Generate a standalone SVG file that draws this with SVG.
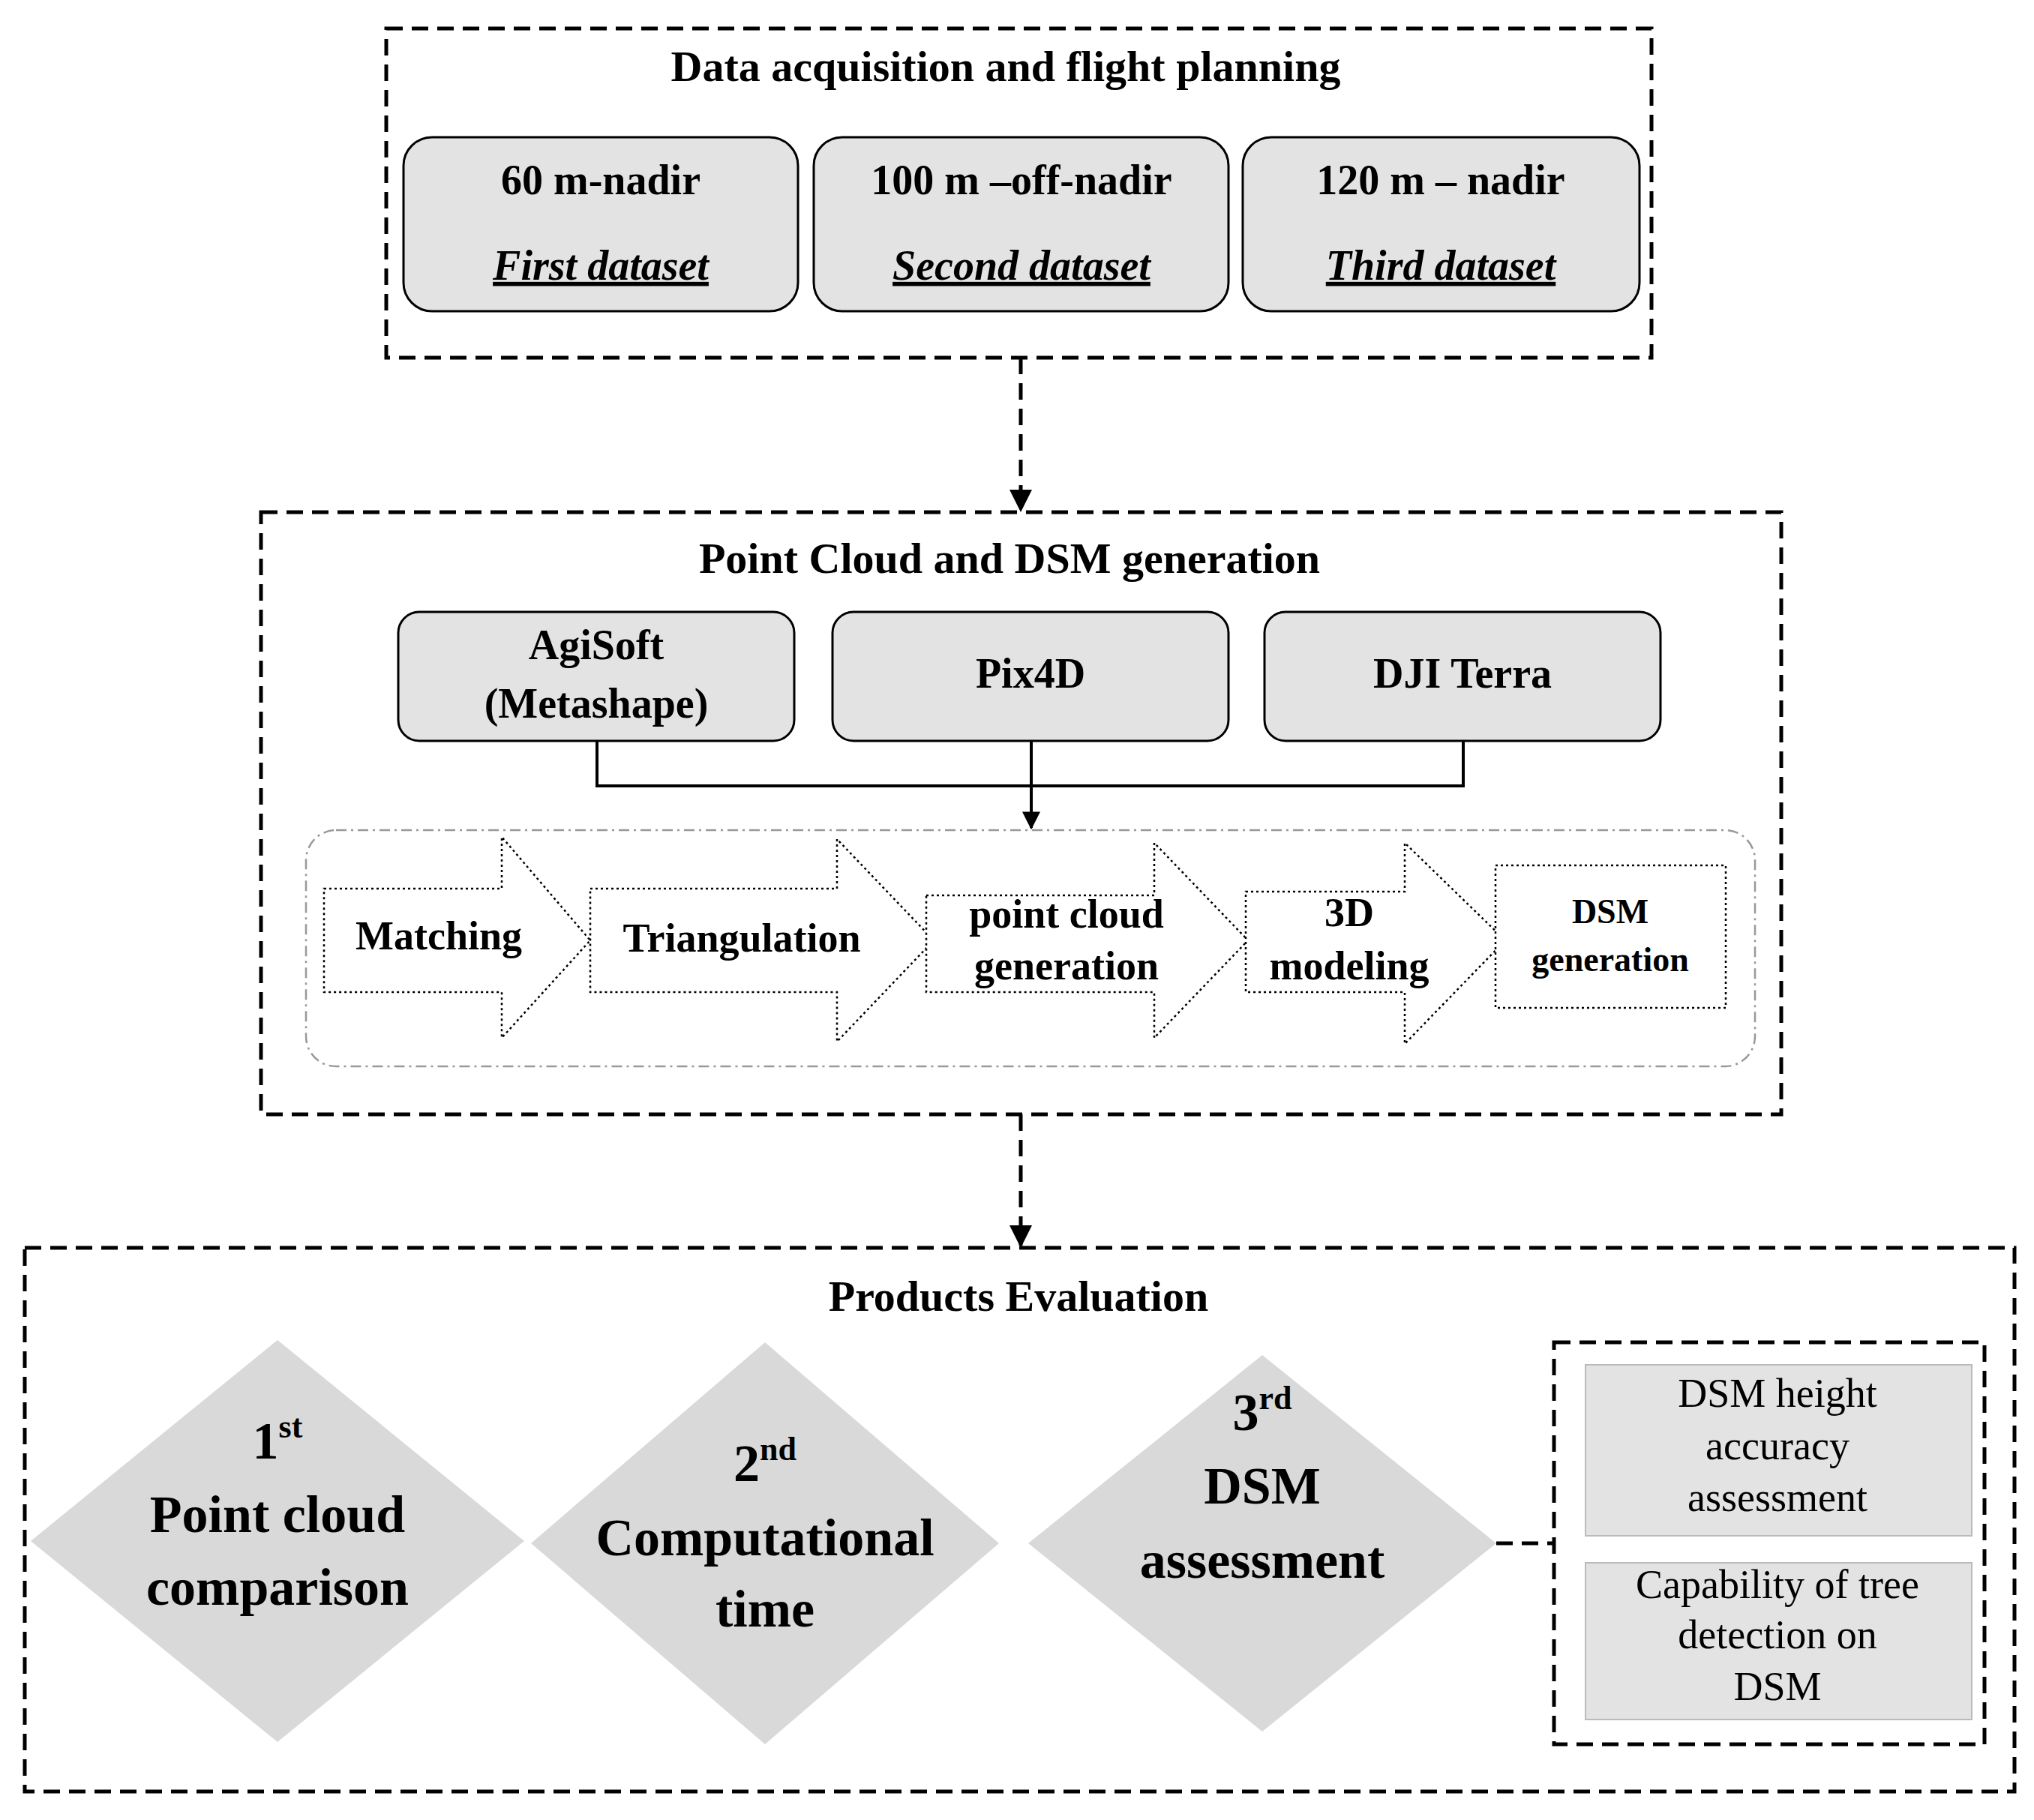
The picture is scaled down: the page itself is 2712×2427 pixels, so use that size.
<svg xmlns="http://www.w3.org/2000/svg" width="2712" height="2427" viewBox="0 0 2712 2427">
<defs>
<marker id="ah" viewBox="0 0 10 10" refX="9" refY="5" markerWidth="6" markerHeight="6" orient="auto"><path d="M0,0 L10,5 L0,10 z" fill="#000"/></marker>
<style>
text{font-family:"Liberation Serif","Times New Roman",serif;fill:#000;text-anchor:middle;dominant-baseline:middle}
.b{font-weight:bold}
.dash{fill:none;stroke:#000;stroke-width:5;stroke-dasharray:22,12}
.rbox{fill:#e3e3e3;stroke:#000;stroke-width:3}
.dot{fill:#fff;stroke:#000;stroke-width:2.5;stroke-dasharray:3,4}
.dia{fill:#d9d9d9}
.gb{fill:#e3e3e3;stroke:#bbb;stroke-width:2}
</style>
</defs>
<rect width="2712" height="2427" fill="#fff"/>
<g id="top">
<rect class="dash" x="515" y="38" width="1687" height="439"/>
<text class="b" x="1341" y="95" font-size="58">Data acquisition  and  flight  planning</text>
</g>
<g id="d1"><rect class="rbox" x="538" y="183" width="526" height="232" rx="38"/>
<text class="b" x="801" y="246" font-size="56">60 m-nadir</text>
<text class="b" x="801" y="360" font-size="56" font-style="italic" text-decoration="underline">First dataset</text></g>
<g id="d2"><rect class="rbox" x="1085" y="183" width="553" height="232" rx="38"/>
<text class="b" x="1362" y="246" font-size="56">100 m –off-nadir</text>
<text class="b" x="1362" y="360" font-size="56" font-style="italic" text-decoration="underline">Second dataset</text></g>
<g id="d3"><rect class="rbox" x="1657" y="183" width="529" height="232" rx="38"/>
<text class="b" x="1921" y="246" font-size="56">120 m – nadir</text>
<text class="b" x="1921" y="360" font-size="56" font-style="italic" text-decoration="underline">Third dataset</text></g>
<g id="mid">
<rect class="dash" x="348" y="683" width="2027" height="803"/>
<text class="b" x="1346" y="751" font-size="58">Point  Cloud  and  DSM  generation</text>
<rect x="408" y="1107" width="1932" height="315" rx="40" fill="none" stroke="#999" stroke-width="2.5" stroke-dasharray="14,6,3,6"/>
</g>
<g id="s1"><rect class="rbox" x="531" y="816" width="528" height="172" rx="28"/>
<text class="b" x="795" y="866" font-size="56">AgiSoft</text><text class="b" x="795" y="944" font-size="56">(Metashape)</text></g>
<g id="s2"><rect class="rbox" x="1110" y="816" width="528" height="172" rx="28"/>
<text class="b" x="1374" y="904" font-size="56">Pix4D</text></g>
<g id="s3"><rect class="rbox" x="1686" y="816" width="528" height="172" rx="28"/>
<text class="b" x="1950" y="904" font-size="56">DJI Terra</text></g>
<g id="a1"><path class="dot" d="M432,1185 H669 V1116 L787,1254 L669,1384 V1323 H432 Z"/>
<text class="b" x="585" y="1254" font-size="54">Matching</text></g>
<g id="a2"><path class="dot" d="M787,1185 H1116 V1119 L1245,1254 L1116,1389 V1323 H787 Z"/>
<text class="b" x="989" y="1257" font-size="54">Triangulation</text></g>
<g id="a3"><path class="dot" d="M1235,1194 H1539 V1124 L1664,1254 L1539,1384 V1323 H1235 Z"/>
<text class="b" x="1422" y="1225" font-size="54">point cloud</text><text class="b" x="1422" y="1294" font-size="54">generation</text></g>
<g id="a4"><path class="dot" d="M1661,1189 H1873 V1124 L2007,1254 L1873,1392 V1323 H1661 Z"/>
<text class="b" x="1799" y="1223" font-size="54">3D</text><text class="b" x="1799" y="1294" font-size="54">modeling</text></g>
<g id="a5"><rect class="dot" x="1994" y="1154" width="307" height="190"/>
<text class="b" x="2147" y="1220" font-size="46">DSM</text><text class="b" x="2147" y="1284" font-size="46">generation</text></g>
<g id="bot">
<rect class="dash" x="33" y="1664" width="2653" height="725"/>
<text class="b" x="1358" y="1735" font-size="58">Products  Evaluation</text>
<rect class="dash" x="2072" y="1790" width="574" height="536"/>
</g>
<g id="e1"><path class="dia" d="M370,1787 L699,2055 L370,2323 L41,2055 Z"/>
<text class="b" x="370" y="1929" font-size="70">1<tspan font-size="44" dy="-22">st</tspan></text>
<text class="b" x="370" y="2027" font-size="70">Point cloud</text><text class="b" x="370" y="2124" font-size="70">comparison</text></g>
<g id="e2"><path class="dia" d="M1020,1790 L1332,2058 L1020,2326 L708,2058 Z"/>
<text class="b" x="1020" y="1959" font-size="70">2<tspan font-size="44" dy="-22">nd</tspan></text>
<text class="b" x="1020" y="2058" font-size="70">Computational</text><text class="b" x="1020" y="2153" font-size="70">time</text></g>
<g id="e3"><path class="dia" d="M1683,1807 L1995,2058 L1683,2309 L1371,2058 Z"/>
<text class="b" x="1683" y="1891" font-size="70">3<tspan font-size="44" dy="-22">rd</tspan></text>
<text class="b" x="1683" y="1989" font-size="70">DSM</text><text class="b" x="1683" y="2088" font-size="70">assessment</text></g>
<g id="r1"><rect class="gb" x="2114" y="1820" width="515" height="228"/>
<text x="2370" y="1864" font-size="54">DSM height</text><text x="2370" y="1934" font-size="54">accuracy</text><text x="2370" y="2003" font-size="54">assessment</text></g>
<g id="r2"><rect class="gb" x="2114" y="2084" width="515" height="209"/>
<text x="2370" y="2119" font-size="54">Capability of tree</text><text x="2370" y="2186" font-size="54">detection on</text><text x="2370" y="2255" font-size="54">DSM</text></g>
<g id="connectors" fill="none" stroke="#000">
<path d="M1361,477 V680" stroke-width="5" stroke-dasharray="22,12" marker-end="url(#ah)"/>
<path d="M1361,1486 V1661" stroke-width="5" stroke-dasharray="22,12" marker-end="url(#ah)"/>
<path d="M796,988 V1048 H1951 V988" stroke-width="4"/>
<path d="M1375,988 V1104" stroke-width="4" marker-end="url(#ah)"/>
<path d="M1995,2058 H2072" stroke-width="5" stroke-dasharray="22,12"/>
</g>
</svg>
